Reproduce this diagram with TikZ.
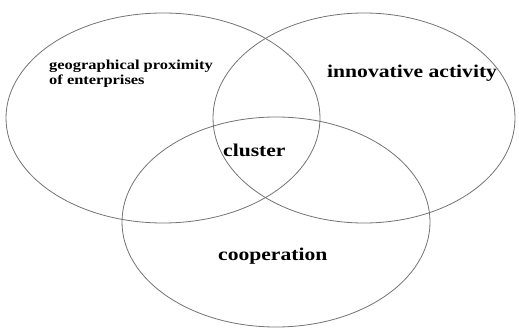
\documentclass[tikz,border=0pt]{standalone}
\usepackage{fontspec}
\newfontfamily\lblfont[FakeStretch=1.2]{Liberation Serif}
\begin{document}
\begin{tikzpicture}[x=1pt,y=-1pt,
  ring/.style={draw=black!55,line width=0.8pt},
  biglabel/.style={inner sep=0pt,anchor=base west,font=\lblfont\bfseries\fontsize{18}{20}\selectfont},
  smalllabel/.style={inner sep=0pt,anchor=base west,align=left,font=\lblfont\bfseries\fontsize{13.7}{15}\selectfont}]
\useasboundingbox (0,0) rectangle (519,331);
% three overlapping sets
\draw[ring] (163,118) ellipse [x radius=157, y radius=105];
\draw[ring] (364,118) ellipse [x radius=151, y radius=105];
\draw[ring] (276,222) ellipse [x radius=154, y radius=105];
% set labels
\node[smalllabel] (geo) at (49,85) {geographical proximity\\of enterprises};
\node[biglabel] (inno) at (327,78) {innovative activity};
\node[biglabel] (clu) at (223,157) {cluster};
\node[biglabel] (coop) at (218,260) {cooperation};
\end{tikzpicture}
\end{document}
